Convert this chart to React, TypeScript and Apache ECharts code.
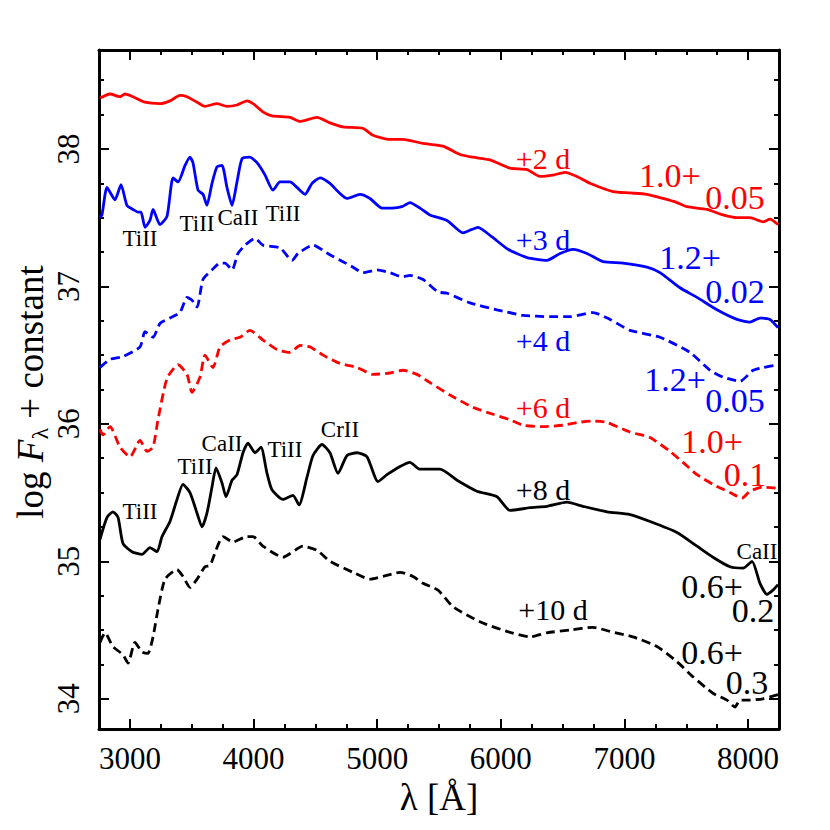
import React, { useEffect, useRef } from "react";
import * as echarts from "echarts";

const X_MIN = 2750;
const X_MAX = 8250;
const Y_MIN = 33.78;
const Y_MAX = 38.72;

const xMajorTicks = [3000, 4000, 5000, 6000, 7000, 8000];
const xMinorTicks = [3250, 3500, 3750, 4250, 4500, 4750, 5250, 5500, 5750, 6250, 6500, 6750, 7250, 7500, 7750];
const yMajorTicks = [34, 35, 36, 37, 38];
const yMinorTicks = [34.25, 34.5, 34.75, 35.25, 35.5, 35.75, 36.25, 36.5, 36.75, 37.25, 37.5, 37.75, 38.25, 38.5];

// Spectra: [wavelength (Å), log F + constant]
const spec2d = [[2758,38.37],[2839,38.40],[2920,38.38],[2960,38.40],[3025,38.38],[3122,38.34],[3243,38.33],[3324,38.35],[3405,38.39],[3462,38.38],[3543,38.34],[3607,38.31],[3704,38.33],[3785,38.31],[3866,38.32],[3947,38.35],[3996,38.33],[4076,38.27],[4149,38.24],[4295,38.23],[4376,38.20],[4513,38.23],[4618,38.19],[4723,38.16],[4885,38.15],[4966,38.10],[5104,38.07],[5209,38.07],[5371,38.04],[5532,38.02],[5670,37.96],[5775,37.94],[5912,37.92],[6074,37.86],[6212,37.85],[6317,37.80],[6422,37.81],[6519,37.83],[6616,37.80],[6721,37.75],[6907,37.69],[7045,37.68],[7182,37.67],[7312,37.64],[7425,37.61],[7506,37.58],[7668,37.56],[7797,37.52],[7910,37.50],[8015,37.50],[8121,37.47],[8177,37.49],[8242,37.45]];
const spec3d = [[2758,37.50],[2774,37.52],[2815,37.72],[2879,37.63],[2928,37.74],[2976,37.59],[3025,37.56],[3065,37.54],[3090,37.54],[3122,37.43],[3162,37.48],[3187,37.56],[3243,37.45],[3300,37.51],[3349,37.79],[3389,37.76],[3446,37.88],[3486,37.94],[3510,37.90],[3551,37.70],[3591,37.67],[3623,37.59],[3664,37.75],[3704,37.87],[3745,37.88],[3785,37.72],[3826,37.59],[3866,37.76],[3907,37.93],[3971,37.94],[4028,37.90],[4093,37.81],[4157,37.70],[4214,37.76],[4295,37.76],[4351,37.72],[4416,37.67],[4473,37.75],[4537,37.79],[4618,37.75],[4683,37.69],[4756,37.64],[4861,37.67],[4942,37.64],[5039,37.57],[5120,37.57],[5201,37.58],[5265,37.61],[5346,37.57],[5427,37.52],[5565,37.48],[5694,37.39],[5815,37.43],[5929,37.36],[6058,37.27],[6212,37.21],[6373,37.19],[6479,37.24],[6584,37.27],[6697,37.24],[6827,37.18],[6988,37.17],[7182,37.14],[7287,37.10],[7449,36.99],[7587,36.92],[7748,36.83],[7910,36.76],[8015,36.74],[8096,36.77],[8177,36.76],[8242,36.70]];
const spec4d = [[2758,36.41],[2839,36.47],[2944,36.49],[3082,36.56],[3122,36.67],[3187,36.63],[3243,36.73],[3324,36.77],[3405,36.81],[3462,36.92],[3502,36.90],[3543,36.85],[3591,37.05],[3664,37.12],[3729,37.17],[3769,37.17],[3826,37.12],[3874,37.24],[3931,37.30],[4012,37.35],[4076,37.30],[4214,37.28],[4311,37.19],[4360,37.24],[4481,37.30],[4618,37.23],[4723,37.18],[4804,37.14],[4885,37.10],[4998,37.12],[5104,37.10],[5201,37.07],[5265,37.08],[5371,37.05],[5492,36.96],[5565,36.95],[5751,36.88],[5969,36.83],[6179,36.79],[6398,36.78],[6559,36.78],[6746,36.81],[6883,36.76],[7045,36.68],[7287,36.63],[7530,36.52],[7692,36.39],[7797,36.34],[7935,36.31],[8040,36.39],[8121,36.41],[8242,36.43]];
const spec6d = [[2758,35.96],[2782,35.92],[2839,35.98],[2920,35.83],[3001,35.76],[3082,35.88],[3138,35.80],[3187,35.83],[3227,36.03],[3300,36.33],[3389,36.43],[3462,36.36],[3502,36.23],[3567,36.34],[3607,36.50],[3672,36.41],[3729,36.56],[3810,36.61],[3890,36.63],[3971,36.68],[4076,36.61],[4190,36.54],[4295,36.52],[4376,36.57],[4457,36.56],[4562,36.50],[4699,36.44],[4837,36.41],[4966,36.36],[5104,36.37],[5209,36.39],[5322,36.36],[5427,36.30],[5589,36.21],[5775,36.12],[5937,36.07],[6074,36.03],[6179,35.99],[6341,35.98],[6503,35.99],[6616,36.01],[6746,36.02],[6859,36.01],[7045,35.94],[7207,35.90],[7368,35.80],[7473,35.72],[7587,35.63],[7716,35.56],[7854,35.50],[7951,35.46],[8015,35.51],[8121,35.54],[8242,35.53]];
const spec8d = [[2758,35.16],[2815,35.32],[2863,35.36],[2904,35.32],[2944,35.13],[3017,35.07],[3098,35.05],[3162,35.10],[3219,35.07],[3260,35.18],[3324,35.29],[3381,35.45],[3429,35.56],[3486,35.50],[3543,35.35],[3583,35.25],[3623,35.35],[3664,35.54],[3696,35.68],[3745,35.57],[3777,35.47],[3826,35.59],[3866,35.63],[3915,35.79],[3955,35.86],[4012,35.79],[4060,35.83],[4109,35.64],[4149,35.52],[4238,35.45],[4319,35.48],[4368,35.41],[4432,35.61],[4481,35.77],[4554,35.85],[4618,35.79],[4683,35.64],[4756,35.77],[4837,35.79],[4918,35.76],[5007,35.58],[5079,35.63],[5185,35.69],[5265,35.72],[5346,35.67],[5508,35.67],[5646,35.59],[5807,35.51],[5969,35.47],[6074,35.37],[6236,35.39],[6373,35.40],[6535,35.43],[6665,35.40],[6859,35.36],[7045,35.34],[7207,35.29],[7425,35.21],[7587,35.11],[7716,35.03],[7854,34.96],[7959,34.95],[8032,35.00],[8096,34.84],[8153,34.76],[8201,34.79],[8242,34.83]];
const spec10d = [[2758,34.41],[2799,34.48],[2863,34.38],[2944,34.32],[2985,34.26],[3041,34.41],[3098,34.34],[3146,34.33],[3187,34.45],[3227,34.65],[3284,34.87],[3381,34.94],[3429,34.89],[3486,34.81],[3543,34.87],[3607,34.96],[3648,34.97],[3753,35.18],[3834,35.14],[3947,35.18],[3996,35.18],[4076,35.11],[4238,35.03],[4400,35.11],[4513,35.08],[4618,35.00],[4804,34.92],[4942,34.87],[5047,34.89],[5185,34.92],[5290,34.89],[5371,34.84],[5492,34.79],[5613,34.67],[5832,34.56],[6050,34.49],[6236,34.45],[6373,34.48],[6559,34.50],[6746,34.52],[6883,34.49],[7069,34.45],[7263,34.38],[7425,34.27],[7554,34.16],[7716,34.04],[7829,33.99],[7894,33.94],[7935,33.99],[8015,33.99],[8121,34.00],[8242,34.03]];

const spectra = [spec2d, spec3d, spec4d, spec6d, spec8d, spec10d];
const epochLabels = ["+2 d", "+3 d", "+4 d", "+6 d", "+8 d", "+10 d"];
const epochLabelX = [6341, 6341, 6341, 6341, 6341, 6422];
const epochLabelY = [37.93, 37.34, 36.61, 36.12, 35.52, 34.65];
const scaleA = ["1.0+", "1.2+", "1.2+", "1.0+", "0.6+", "0.6+"];
const scaleAX = [7368, 7530, 7409, 7708, 7708, 7708];
const scaleAY = [37.81, 37.21, 36.32, 35.87, 34.82, 34.34];
const scaleB = ["0.05", "0.02", "0.05", "0.1", "0.2", "0.3"];
const scaleBX = [7894, 7894, 7894, 7975, 8040, 7991];
const scaleBY = [37.65, 36.96, 36.17, 35.63, 34.64, 34.12];
const ionNames = ["TiII", "TiII", "CaII", "TiII", "TiII", "TiII", "CaII", "TiII", "CrII", "CaII"];
const ionX = [3082, 3543, 3874, 4238, 3082, 3527, 3745, 4254, 4699, 8072];
const ionY = [37.35, 37.46, 37.50, 37.53, 35.36, 35.69, 35.86, 35.81, 35.96, 35.07];

const lineColors = ["#ff0000", "#0000ff", "#0000ff", "#ff0000", "#000000", "#000000"];
const lineTypes: any[] = ["solid", "solid", [9, 5], [9, 5], "solid", [9, 5]];

const FONT = '"Liberation Serif", "Times New Roman", serif';

export default function App() {
  const ref = useRef<HTMLDivElement>(null);
  useEffect(() => {
    if (!ref.current) return;
    const chart = echarts.init(ref.current, null, { renderer: "svg" });
    const tickStyle = { color: "#000", width: 2 };
    const mkX = (pos: string, ticks: number[], len: number, labels: boolean, line: boolean) => ({
      type: "value", position: pos, min: X_MIN, max: X_MAX,
      axisLine: { show: line, onZero: false, lineStyle: { color: "#000", width: 3 } },
      axisTick: { show: true, inside: true, length: len, customValues: ticks, lineStyle: tickStyle },
      axisLabel: labels ? { show: true, customValues: ticks, margin: 14, fontSize: 31, fontFamily: FONT, color: "#000", formatter: (v: number) => String(v) } : { show: false },
      splitLine: { show: false },
    });
    const mkY = (pos: string, ticks: number[], len: number, labels: boolean, line: boolean) => ({
      type: "value", position: pos, min: Y_MIN, max: Y_MAX,
      axisLine: { show: line, onZero: false, lineStyle: { color: "#000", width: 3 } },
      axisTick: { show: true, inside: true, length: len, customValues: ticks, lineStyle: tickStyle },
      axisLabel: labels ? { show: true, customValues: ticks, rotate: 90, margin: 15, fontSize: 31, fontFamily: FONT, color: "#000", formatter: (v: number) => String(v) } : { show: false },
      splitLine: { show: false },
    });

    const series: any[] = spectra.map((d, i) => ({
      type: "line", name: epochLabels[i], data: d, xAxisIndex: 0, yAxisIndex: 0,
      showSymbol: false, symbol: "none", smooth: 0.2,
      lineStyle: { color: lineColors[i], width: 2.8, type: lineTypes[i] },
      z: 2,
    }));

    const lbl = (color: string, fontSize: number, lineHeight: number) => ({
      color, fontSize, lineHeight, opacity: 1, textBorderWidth: 0, fontFamily: FONT,
    });
    const annData: any[] = [];
    epochLabels.forEach((t, i) => annData.push({ value: [epochLabelX[i], epochLabelY[i]], name: t, label: lbl(lineColors[i], 30, 30) }));
    scaleA.forEach((t, i) => annData.push({ value: [scaleAX[i], scaleAY[i]], name: t, label: lbl(lineColors[i], 34, 26) }));
    scaleB.forEach((t, i) => annData.push({ value: [scaleBX[i], scaleBY[i]], name: t, label: lbl(lineColors[i], 34, 26) }));
    ionNames.forEach((t, i) => annData.push({ value: [ionX[i], ionY[i]], name: t, label: lbl("#000", 23, 20) }));

    series.push({
      type: "scatter", data: annData, xAxisIndex: 0, yAxisIndex: 0, symbolSize: 1,
      itemStyle: { color: "rgba(0,0,0,0)" }, z: 5, silent: true,
      emphasis: { disabled: true },
      label: { show: true, position: "inside", formatter: "{b}", fontFamily: FONT, textBorderWidth: 0 },
    });

    chart.setOption({
      animation: false,
      backgroundColor: "#ffffff",
      grid: { left: 99, top: 50, width: 680, height: 679, containLabel: false, outerBoundsMode: "none" },
      xAxis: [
        mkX("bottom", xMajorTicks, 10, true, true),
        mkX("bottom", xMinorTicks, 5, false, false),
        mkX("top", xMajorTicks, 10, false, true),
        mkX("top", xMinorTicks, 5, false, false),
      ],
      yAxis: [
        mkY("left", yMajorTicks, 10, true, true),
        mkY("left", yMinorTicks, 5, false, false),
        mkY("right", yMajorTicks, 10, false, true),
        mkY("right", yMinorTicks, 5, false, false),
      ],
      series,
      graphic: [
        {
          type: "text", x: 439, y: 797,
          style: { text: "λ [Å]", fontSize: 37, fontFamily: FONT, fill: "#000", align: "center", verticalAlign: "middle", textAlign: "center", textVerticalAlign: "middle" },
        },
        {
          type: "text", x: 30, y: 392, rotation: Math.PI / 2,
          style: {
            text: "{a|log }{f|F}{s|λ}{a| + constant}",
            align: "center", verticalAlign: "middle", textAlign: "center", textVerticalAlign: "middle",
            fill: "#000",
            rich: {
              a: { fontSize: 37, fontFamily: FONT, fill: "#000", color: "#000" },
              f: { fontSize: 37, fontFamily: FONT, fontStyle: "italic", fill: "#000", color: "#000" },
              s: { fontSize: 24, fontFamily: FONT, fill: "#000", color: "#000", padding: [20, 0, 0, 0] },
            },
          },
        },
      ],
    });
    return () => chart.dispose();
  }, []);
  return <div ref={ref} style={{ position: "fixed", left: 0, top: 0, width: 830, height: 830, background: "#fff" }} />;
}
